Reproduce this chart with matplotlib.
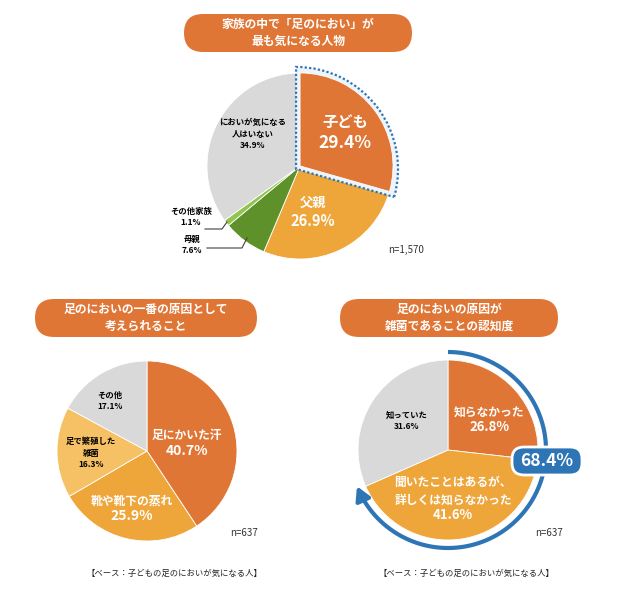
import matplotlib
matplotlib.use("Agg")
import matplotlib.pyplot as plt
import numpy as np
from matplotlib.patches import FancyBboxPatch, Wedge

plt.rcParams['font.family'] = ['Noto Sans CJK JP', 'DejaVu Sans']

# data
top_labels = ["子ども", "父親", "母親", "その他家族", "においが気になる\n人はいない"]
top_values = [29.4, 26.9, 7.6, 1.1, 34.9]
top_n = "n=1,570"

cause_labels = ["足にかいた汗", "靴や靴下の蒸れ", "足で繁殖した\n雑菌", "その他"]
cause_values = [40.7, 25.9, 16.3, 17.1]

aware_labels = ["知らなかった", "聞いたことはあるが、\n詳しくは知らなかった", "知っていた"]
aware_values = [26.8, 41.6, 31.6]
aware_total = "68.4%"
bottom_n = "n=637"
base_note = "【ベース：子どもの足のにおいが気になる人】"

ORANGE = "#E07636"
AMBER = "#EEA53A"
LAMBER = "#F5C164"
GREY = "#D9D9D9"
GREEN = "#5E912A"
LGREEN = "#92C450"
BLUE = "#2E75B6"

W, H = 640, 601
fig = plt.figure(figsize=(6.4, 6.01), dpi=100)
ax = fig.add_axes([0, 0, 1, 1])


def Y(y):
    return H - y


def pill(cx, cy, w, h, text):
    box = FancyBboxPatch((cx - w / 2 + h / 2, Y(cy) - 0.005), w - h, 0.01,
                         boxstyle="round,pad=%f,rounding_size=%f" % (h / 2 - 0.01, h / 2),
                         fc=ORANGE, ec="none", zorder=2)
    ax.add_patch(box)
    ax.text(cx, Y(cy), text, ha="center", va="center", color="white",
            fontsize=8.5, fontweight="bold", linespacing=1.35, zorder=3)


# ---- top pie
r1 = 93
c1 = (300, Y(166))
w1, _ = ax.pie(top_values, colors=[ORANGE, AMBER, GREEN, LGREEN, GREY],
               startangle=90, counterclock=False, radius=r1, center=c1,
               explode=[0.065, 0, 0, 0, 0],
               wedgeprops=dict(linewidth=0.6, edgecolor="white"))
kid = w1[0]
kid.set_zorder(2)
mid = np.deg2rad((kid.theta1 + kid.theta2) / 2)
half = np.deg2rad(abs(kid.theta2 - kid.theta1) / 2)
d = 4 / np.sin(half)
oc = (kid.center[0] - d * np.cos(mid), kid.center[1] - d * np.sin(mid))
ax.add_patch(Wedge(oc, r1 + d + 4, kid.theta1, kid.theta2, fc="#EEF4FB",
                   ec="none", zorder=1.5))
ax.add_patch(Wedge(oc, r1 + d + 4, kid.theta1, kid.theta2, fill=False,
                   ec=BLUE, lw=1.6, ls=(0, (1, 1)), zorder=2.5))

ax.text(345, Y(122), top_labels[0], ha="center", va="center", color="white",
        fontsize=11, fontweight="bold", zorder=3)
ax.text(345, Y(143), f"{top_values[0]}%", ha="center", va="center", color="white",
        fontsize=12.5, fontweight="bold", zorder=3)
ax.text(313, Y(203), top_labels[1], ha="center", va="center", color="white",
        fontsize=9.5, fontweight="bold")
ax.text(313, Y(221), f"{top_values[1]}%", ha="center", va="center", color="white",
        fontsize=10.5, fontweight="bold")
ax.text(253, Y(134), f"{top_labels[4]}\n{top_values[4]}%", ha="center", va="center",
        color="black", fontsize=6, fontweight="bold", linespacing=1.4)
ax.text(191, Y(217), f"{top_labels[3]}\n{top_values[3]}%", ha="center", va="center",
        color="black", fontsize=6, fontweight="bold", linespacing=1.4)
ax.text(192, Y(245), f"{top_labels[2]}\n{top_values[2]}%", ha="center", va="center",
        color="black", fontsize=6, fontweight="bold", linespacing=1.4)
ax.plot([205, 222, 227], [Y(229), Y(229), Y(222)], color="#404040", lw=0.8)
ax.plot([207, 242, 247], [Y(248), Y(248), Y(238)], color="#404040", lw=0.8)
ax.text(388, Y(250), top_n, ha="left", va="center", fontsize=7, color="#333333")

pill(298, 33, 228, 38, "家族の中で「足のにおい」が\n最も気になる人物")

# ---- bottom left pie
r2 = 90
c2 = (147, Y(451))
ax.pie(cause_values, colors=[ORANGE, AMBER, LAMBER, GREY], startangle=90,
       counterclock=False, radius=r2, center=c2,
       wedgeprops=dict(linewidth=0.6, edgecolor="white"))
ax.text(187, Y(435), cause_labels[0], ha="center", va="center", color="white",
        fontsize=8.5, fontweight="bold")
ax.text(187, Y(451), f"{cause_values[0]}%", ha="center", va="center", color="white",
        fontsize=10, fontweight="bold")
ax.text(132, Y(501), cause_labels[1], ha="center", va="center", color="white",
        fontsize=8.5, fontweight="bold")
ax.text(132, Y(516), f"{cause_values[1]}%", ha="center", va="center", color="white",
        fontsize=10, fontweight="bold")
ax.text(91, Y(453), f"{cause_labels[2]}\n{cause_values[2]}%", ha="center", va="center",
        color="black", fontsize=6, fontweight="bold", linespacing=1.4)
ax.text(110, Y(401), f"{cause_labels[3]}\n{cause_values[3]}%", ha="center", va="center",
        color="black", fontsize=6, fontweight="bold", linespacing=1.4)
ax.text(230, Y(533), bottom_n, ha="left", va="center", fontsize=7, color="#333333")
ax.text(174, Y(573), base_note, ha="center", va="center", fontsize=6, color="#222222")

pill(146, 318, 222, 38, "足のにおいの一番の原因として\n考えられること")

# ---- bottom right pie
r3 = 90
c3 = (448, Y(450))
ax.pie(aware_values, colors=[ORANGE, AMBER, GREY], startangle=90,
       counterclock=False, radius=r3, center=c3,
       wedgeprops=dict(linewidth=0.6, edgecolor="white"))
ax.text(489, Y(412), aware_labels[0], ha="center", va="center", color="white",
        fontsize=8.5, fontweight="bold")
ax.text(489, Y(427), f"{aware_values[0]}%", ha="center", va="center", color="white",
        fontsize=9.5, fontweight="bold")
ax.text(453, Y(491), aware_labels[1], ha="center", va="center", color="white",
        fontsize=8.5, fontweight="bold", linespacing=1.45)
ax.text(453, Y(515), f"{aware_values[1]}%", ha="center", va="center", color="white",
        fontsize=9.5, fontweight="bold")
ax.text(407, Y(421), f"{aware_labels[2]}\n{aware_values[2]}%", ha="center", va="center",
        color="black", fontsize=6, fontweight="bold", linespacing=1.4)

# blue arc round "didn't know" share
share = (aware_values[0] + aware_values[1]) / 100
ra = 98
t_end = 90 - share * 360 - 2
ts = np.deg2rad(np.linspace(90, t_end + 4, 200))
ax.plot(c3[0] + ra * np.cos(ts), c3[1] + ra * np.sin(ts), color=BLUE, lw=3,
        solid_capstyle="butt", zorder=4)
te = np.deg2rad(t_end)
tp = np.deg2rad(t_end + 5)
ax.annotate("", xy=(c3[0] + ra * np.cos(te), c3[1] + ra * np.sin(te)),
            xytext=(c3[0] + ra * np.cos(tp), c3[1] + ra * np.sin(tp)),
            arrowprops=dict(arrowstyle="-|>,head_length=0.8,head_width=0.45",
                            color=BLUE, lw=3, shrinkA=0, shrinkB=0), zorder=4)

bw, bh = 70, 28
badge = FancyBboxPatch((547 - bw / 2, Y(461) - bh / 2), bw, bh,
                       boxstyle="round,pad=0,rounding_size=12",
                       fc=BLUE, ec="white", lw=2, zorder=5)
ax.add_patch(badge)
ax.text(547, Y(461), aware_total, ha="center", va="center", color="white",
        fontsize=12.5, fontweight="bold", zorder=6)
ax.text(535, Y(533), bottom_n, ha="left", va="center", fontsize=7, color="#333333")
ax.text(466, Y(573), base_note, ha="center", va="center", fontsize=6, color="#222222")

pill(449, 318, 218, 38, "足のにおいの原因が\n雑菌であることの認知度")

ax.set_xlim(0, W)
ax.set_ylim(0, H)
ax.set_aspect("auto")
ax.axis("off")

fig.savefig("out.png", dpi=100, facecolor="white")
